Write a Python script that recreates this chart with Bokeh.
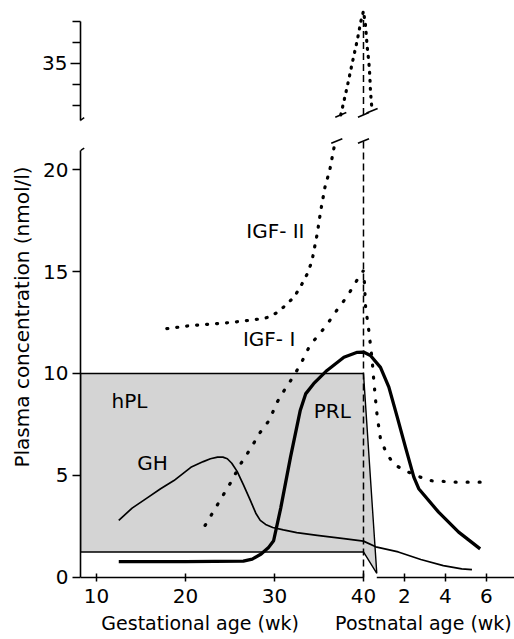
import numpy as np
from bokeh.plotting import figure
from bokeh.layouts import column
from bokeh.models import FixedTicker, Range1d, Title
from bokeh.core.properties import value
from bokeh.embed import file_html
from bokeh.resources import INLINE

FONT = "DejaVu Sans"
BIRTH = 40.0          # gestational week of birth
PN = 2.3              # axis units per postnatal week


def pn(weeks):
    return [BIRTH + PN * w for w in weeks]


# ---------------- data ----------------
# hPL band (gestation) and its fall after birth
hpl_low, hpl_high = 1.25, 10.0
hpl_end_w, hpl_end_y = 0.65, 0.2

# GH
gh_gest_x = [12.5, 14.0, 15.7, 17.2, 18.7, 20.6, 22.0, 22.8, 23.6, 24.2, 24.7, 25.2, 25.8, 26.5, 27.3, 27.9, 28.4, 29.0, 29.8, 31.0, 32.5, 34.8, 37.8, 40.0]
gh_gest_y = [2.8, 3.4, 3.9, 4.35, 4.75, 5.4, 5.68, 5.82, 5.9, 5.9, 5.82, 5.6, 5.2, 4.55, 3.77, 3.15, 2.8, 2.6, 2.45, 2.33, 2.2, 2.06, 1.9, 1.78]
gh_post_w = [0.6, 1.7, 2.8, 3.9, 4.8, 5.3]
gh_post_y = [1.5, 1.25, 0.88, 0.58, 0.42, 0.38]

# PRL
prl_gest_x = [12.5, 20.0, 26.5, 27.5, 28.5, 29.3, 29.9, 30.7, 31.8, 32.9, 33.5, 34.4, 35.9, 37.8, 39.3, 40.0]
prl_gest_y = [0.78, 0.78, 0.8, 0.9, 1.15, 1.45, 1.8, 3.4, 5.9, 8.2, 9.0, 9.5, 10.15, 10.8, 11.04, 11.05]
prl_post_w = [0.34, 0.83, 1.24, 1.65, 2.05, 2.46, 2.7, 3.67, 4.65, 5.7]
prl_post_y = [10.88, 10.3, 9.33, 7.86, 6.39, 4.92, 4.35, 3.2, 2.22, 1.4]

# IGF-I
igf1_gest_x = [22.2, 23.2, 24.1, 25.1, 26.2, 27.3, 28.4, 29.4, 30.3, 31.2, 32.2, 33.1, 34.0, 35.0, 35.9, 37.0, 38.2, 39.3, 40.0]
igf1_gest_y = [2.55, 3.28, 3.94, 4.67, 5.57, 6.31, 7.12, 7.7, 8.6, 9.25, 9.9, 10.6, 11.4, 11.9, 12.4, 13.1, 13.8, 14.6, 15.05]
igf1_post_w = [0.05, 0.1, 0.26, 0.42, 0.5, 0.59, 0.67, 0.83, 1.16, 1.56, 2.2, 3.19, 4.49, 5.95]
igf1_post_y = [14.4, 13.3, 12.1, 10.7, 9.7, 8.7, 7.9, 6.8, 6.0, 5.5, 5.16, 4.75, 4.67, 4.67]

# IGF-II (lower part, below the axis break)
igf2_low_x = [17.9, 20.6, 23.6, 25.1, 27.0, 28.8, 29.6, 30.3, 31.0, 31.6, 32.2, 33.1, 33.7, 34.2, 34.8, 35.2, 35.7, 36.2, 36.7, 37.0]
igf2_low_y = [12.2, 12.35, 12.45, 12.5, 12.6, 12.7, 12.8, 13.0, 13.25, 13.5, 13.74, 14.4, 14.9, 15.5, 16.85, 18.0, 19.2, 19.95, 21.1, 21.4]
# IGF-II (upper part, above the axis break)
igf2_up_x = [37.45, 38.2, 38.75, 39.3, 39.7, 40.0]
igf2_up_y = [32.55, 33.95, 35.05, 36.1, 37.0, 37.5]
igf2_up_post_w = [0.1, 0.18, 0.26, 0.31, 0.34, 0.38, 0.42]
igf2_up_post_y = [36.8, 35.8, 35.1, 34.4, 33.7, 33.2, 32.75]

# axes
gest_ticks = [10, 20, 30, 40]
post_ticks = [2, 4, 6]
low_y_ticks = [0, 5, 10, 15, 20]
up_y_ticks = [35]
up_y_minor = [33, 34, 36, 37]
low_axis_top = 20.93
up_axis_bottom = 32.3
up_axis_top = 37.0
break_low = 21.4
break_up = 32.55
dash_up_top = 37.3
axis_gap_w = 0.65

labels_text = ["hPL", "GH", "PRL", "IGF- II", "IGF- I"]
labels_x = [13.7, 16.3, 36.5, 30.1, 29.4]
labels_y = [8.63, 5.59, 8.14, 17.0, 11.7]

y_title = "Plasma concentration (nmol/l)"
x_title_gest = "Gestational age (wk)"
x_title_post = "Postnatal age (wk)"

NB = "\u00a0"
X0, X1 = 8.2, 56.97
xr = Range1d(X0, X1)

# ---------------- lower panel ----------------
low = figure(width=514, height=504, x_range=xr, y_range=Range1d(-0.15, 21.67),
             output_backend="svg", toolbar_location=None,
             min_border_left=80, min_border_right=0, min_border_top=0, min_border_bottom=59)
low.grid.grid_line_color = None
low.outline_line_color = None
low.background_fill_color = "white"

# hPL
low.patch([X0, X0, BIRTH, pn([hpl_end_w])[0], BIRTH],
          [hpl_low, hpl_high, hpl_high, hpl_end_y, hpl_low],
          fill_color="#d4d4d4", line_color="black", line_width=1.4)

# dashed birth line
low.segment(x0=[BIRTH], y0=[0], x1=[BIRTH], y1=[break_low], line_color="black",
            line_width=1.5, line_dash="7 4")

# GH
low.line(gh_gest_x + pn(gh_post_w), gh_gest_y + gh_post_y, line_color="black", line_width=1.7,
         line_join="round")
# PRL
low.line(prl_gest_x + pn(prl_post_w), prl_gest_y + prl_post_y, line_color="black", line_width=3.3,
         line_join="round")
# IGF-I
low.line(igf1_gest_x + pn(igf1_post_w), igf1_gest_y + igf1_post_y, line_color="black",
         line_width=3.2, line_dash="1 11", line_cap="round")
# IGF-II
low.line(igf2_low_x, igf2_low_y, line_color="black", line_width=3.2, line_dash="1 9", line_cap="round")

# break marks
low.scatter(x=[igf2_low_x[-1], BIRTH], y=[break_low, break_low], marker="dash", size=12,
            angle=0.4, line_color="black", line_width=1.6)
low.scatter(x=[X0], y=[low_axis_top], marker="dash", size=9, angle=0.6,
            line_color="black", line_width=1.5)

# x axis line (broken at birth)
low.segment(x0=[X0, pn([axis_gap_w])[0]], y0=[0, 0], x1=[BIRTH, X1], y1=[0, 0],
            line_color="black", line_width=1.6)

low.text(x=labels_x, y=labels_y, text=labels_text, text_font=value(FONT), text_font_size="20px",
         text_align="center", text_baseline="middle", text_color="black")

xticks = gest_ticks + pn(post_ticks)
overrides = {t: str(l) for t, l in zip(xticks, gest_ticks + post_ticks)}
xa = low.xaxis[0]
xa.ticker = FixedTicker(ticks=xticks)
xa.major_label_overrides = overrides
xa.axis_line_color = None
xa.major_tick_in = 7
xa.major_tick_out = 1
xa.major_tick_line_width = 1.5
xa.minor_tick_line_color = None
xa.major_label_standoff = 7
xa.major_label_text_font = FONT
xa.major_label_text_font_size = "20px"
xa.major_label_text_color = "black"
xa.axis_label = NB * 3 + x_title_gest + NB * 6 + x_title_post
xa.axis_label_text_font = FONT
xa.axis_label_text_font_size = "19px"
xa.axis_label_text_font_style = "normal"
xa.axis_label_text_color = "black"
xa.axis_label_standoff = 6

ya = low.yaxis[0]
ya.ticker = FixedTicker(ticks=low_y_ticks)
ya.bounds = (0, low_axis_top)
ya.axis_line_width = 1.6
ya.major_tick_in = 0
ya.major_tick_out = 8
ya.major_tick_line_width = 1.5
ya.minor_tick_line_color = None
ya.major_label_standoff = 4
ya.major_label_text_font = FONT
ya.major_label_text_font_size = "20px"
ya.major_label_text_color = "black"

low.add_layout(Title(text=y_title, align="left", offset=113, standoff=14,
                     text_font=FONT, text_font_size="20px", text_font_style="normal",
                     text_color="black"), "left")

# ---------------- upper panel ----------------
up = figure(width=514, height=135, x_range=xr, y_range=Range1d(31.571, 38.0),
            output_backend="svg", toolbar_location=None, x_axis_location=None,
            min_border_left=80, min_border_right=0, min_border_top=0, min_border_bottom=0)
up.grid.grid_line_color = None
up.outline_line_color = None

up.segment(x0=[BIRTH], y0=[break_up], x1=[BIRTH], y1=[dash_up_top], line_color="black",
           line_width=1.5, line_dash="7 4")
up.line(igf2_up_x + pn(igf2_up_post_w), igf2_up_y + igf2_up_post_y, line_color="black",
        line_width=3.2, line_dash="1 7", line_cap="round")
up.scatter(x=[igf2_up_x[0], BIRTH, pn([igf2_up_post_w[-1]])[0]],
           y=[igf2_up_y[0], break_up, igf2_up_post_y[-1]], marker="dash", size=12,
           angle=0.4, line_color="black", line_width=1.6)
up.scatter(x=[X0], y=[up_axis_bottom], marker="dash", size=9, angle=0.6,
           line_color="black", line_width=1.5)

yu = up.yaxis[0]
yu.ticker = FixedTicker(ticks=up_y_ticks, minor_ticks=up_y_minor)
yu.bounds = (up_axis_bottom, up_axis_top)
yu.axis_line_width = 1.6
yu.major_tick_in = 0
yu.major_tick_out = 10
yu.minor_tick_in = 0
yu.minor_tick_out = 8
yu.major_tick_line_width = 1.5
yu.minor_tick_line_width = 1.5
yu.minor_tick_line_color = "black"
yu.major_label_standoff = 3
yu.major_label_text_font = FONT
yu.major_label_text_font_size = "20px"
yu.major_label_text_color = "black"

layout = column(up, low, spacing=0)
open("out.html", "w").write(file_html(layout, INLINE))
